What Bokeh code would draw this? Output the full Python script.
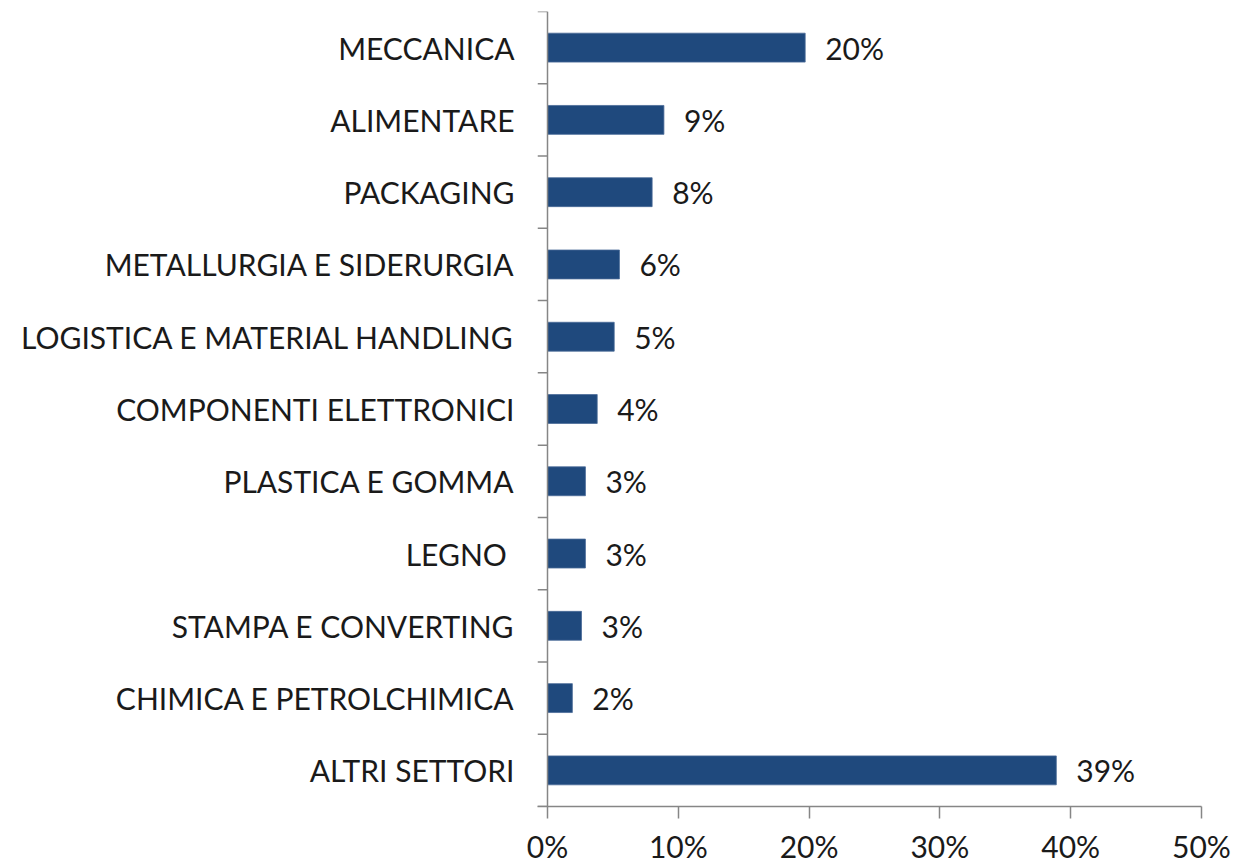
from bokeh.plotting import figure
from bokeh.models import ColumnDataSource, Range1d, FixedTicker, LabelSet, Span
from bokeh.core.properties import value
from bokeh.embed import file_html
from bokeh.resources import INLINE

categories = ["MECCANICA", "ALIMENTARE", "PACKAGING", "METALLURGIA E SIDERURGIA",
              "LOGISTICA E MATERIAL HANDLING", "COMPONENTI ELETTRONICI",
              "PLASTICA E GOMMA", "LEGNO ", "STAMPA E CONVERTING",
              "CHIMICA E PETROLCHIMICA", "ALTRI SETTORI"]
values = [19.7, 8.9, 8.0, 5.5, 5.1, 3.8, 2.9, 2.9, 2.6, 1.9, 38.9]
value_labels = ["20%", "9%", "8%", "6%", "5%", "4%", "3%", "3%", "3%", "2%", "39%"]
x_ticks = [0, 10, 20, 30, 40, 50]
x_tick_labels = ["0%", "10%", "20%", "30%", "40%", "50%"]

FONT = "Lato"
FSIZE = "30px"
TXT = "#1a1a1a"
AX = "#868686"
X_MAX = 50
FRAME_W = 664          # pixels from frame left to right
TICK_PX = 10           # y-axis tick length left of the axis line
x_start = -TICK_PX * X_MAX / (FRAME_W - TICK_PX)

n = len(categories)
ypos = list(range(1, n + 1))
src = ColumnDataSource(dict(
    y=ypos,
    v=values,
    zero=[0] * n,
    lab=value_labels,
))

p = figure(width=1235, height=866, output_backend="svg", toolbar_location=None,
           x_range=Range1d(x_start, X_MAX), y_range=Range1d(n + 0.5, 0.5),
           min_border_left=537, min_border_right=34, min_border_top=11,
           min_border_bottom=58)
p.outline_line_color = None
p.xgrid.visible = False
p.ygrid.visible = False
p.background_fill_color = "white"
p.border_fill_color = "white"

p.hbar(y="y", left="zero", right="v", height=0.4, source=src,
       fill_color="#1F497D", line_color="#4a6b98", line_width=0.8)

# y axis line and boundary tick marks
p.add_layout(Span(location=0, dimension="height", line_color=AX, line_width=1.5))
bounds = [i + 0.5 for i in range(n + 1)]
p.segment(x0=[x_start] * len(bounds), y0=bounds, x1=[0] * len(bounds), y1=bounds,
          line_color=AX, line_width=1.5)

# category labels on the y axis (no tick marks there)
p.yaxis.ticker = FixedTicker(ticks=ypos)
p.yaxis.major_label_overrides = {y: c for y, c in zip(ypos, categories)}
p.yaxis.axis_line_color = None
p.yaxis.major_tick_line_color = None
p.yaxis.minor_tick_line_color = None
p.yaxis.major_label_standoff = 17
p.yaxis.major_label_text_font = FONT
p.yaxis.major_label_text_font_size = FSIZE
p.yaxis.major_label_text_color = TXT

p.xaxis.ticker = FixedTicker(ticks=x_ticks)
p.xaxis.major_label_overrides = {t: l for t, l in zip(x_ticks, x_tick_labels)}
p.xaxis.major_tick_out = 12
p.xaxis.major_tick_in = 0
p.xaxis.minor_tick_out = 0
p.xaxis.minor_tick_in = 0
p.xaxis.axis_line_color = AX
p.xaxis.major_tick_line_color = AX
p.xaxis.axis_line_width = 1.5
p.xaxis.major_tick_line_width = 1.5
p.xaxis.major_label_text_font = FONT
p.xaxis.major_label_text_font_size = FSIZE
p.xaxis.major_label_text_color = TXT
p.xaxis.major_label_standoff = 9

val_labels = LabelSet(x="v", y="y", text="lab", source=src, x_offset=20,
                      text_align="left", text_baseline="middle",
                      text_font=value(FONT), text_font_size=value(FSIZE),
                      text_color=TXT)
p.add_layout(val_labels)

open("out.html", "w").write(file_html(p, INLINE))
